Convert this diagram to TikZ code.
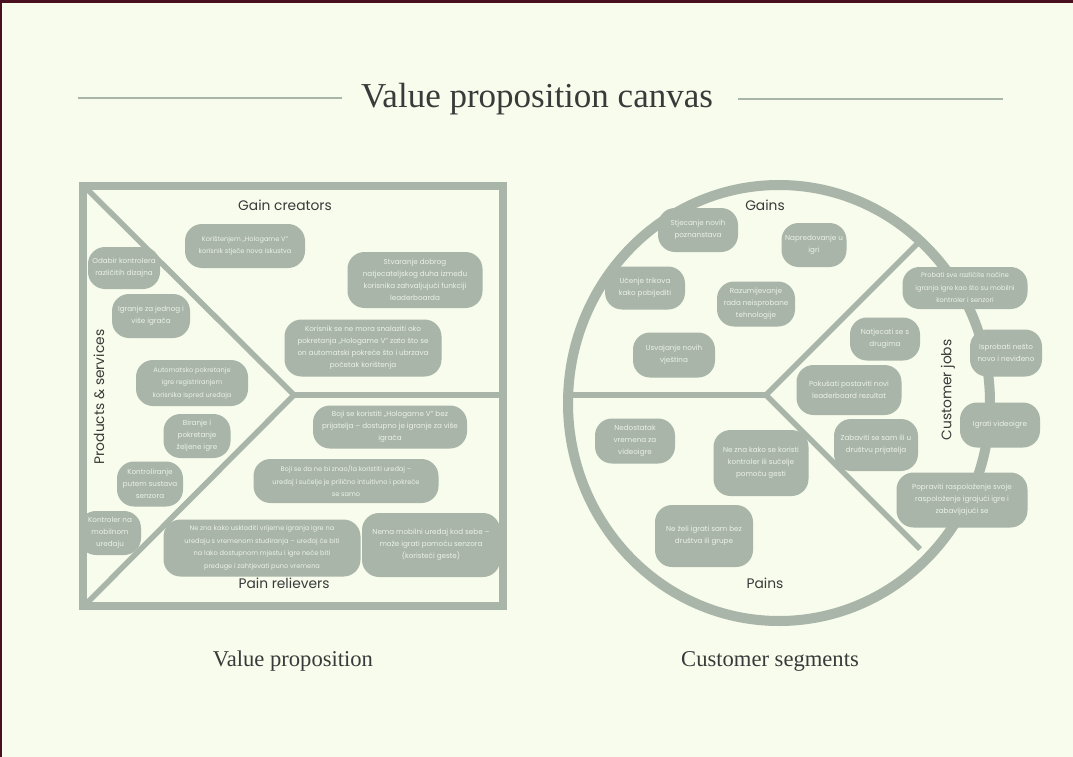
\documentclass[tikz,border=0pt]{standalone}
\usepackage{fontspec}
\usepackage{xcolor}
\usepackage{tikz}
\newfontfamily\popfont{Poppins}
\newfontfamily\titlefont{Liberation Serif}
\definecolor{paper}{HTML}{F7FCEC}
\definecolor{sage}{HTML}{A8B5A8}
\definecolor{ink}{HTML}{3A3A3A}
\definecolor{notetxt}{HTML}{EDF2EA}
\definecolor{maroon}{HTML}{4A1020}

\begin{document}
\begin{tikzpicture}[x=1pt, y=-1pt,
  note/.style 2 args={rectangle, rounded corners=17pt, fill=sage, text=notetxt,
    align=center, inner sep=1pt, minimum width=#1, minimum height=#2,
    font=\popfont\fontsize{7.2}{12}\selectfont},
  tight/.style={font=\popfont\fontsize{6.6}{12.5}\selectfont},
  lbl/.style={font=\popfont\fontsize{13.8}{16}\selectfont, text=ink},
  sectcap/.style={font=\titlefont\fontsize{22.6}{27}\selectfont, text=ink},
  frame/.style={draw=sage, line width=8pt}]

\useasboundingbox (0,0) rectangle (1073,757);
\fill[paper] (0,0) rectangle (1073,757);
\fill[maroon] (0,0) rectangle (1073,3);
\fill[maroon] (0,0) rectangle (1.5,757);

% Title
\node[font=\titlefont\fontsize{35}{40}\selectfont, text=ink] (title) at (537,99) {Value proposition canvas};
\draw[sage, line width=2.5pt] (78,98) -- (342,98);
\draw[sage, line width=2.5pt] (738,99) -- (1003,99);

% Value proposition square
\coordinate (tl) at (86,188);
\coordinate (bl) at (86,604);
\coordinate (tip) at (294,395);
\coordinate (re) at (503,395);
\draw[frame] (83,186) rectangle (503,606);
\draw[sage, line width=5.5pt] (tl) -- (tip) -- (bl);
\draw[sage, line width=5.5pt] (tip) -- (re);

% Customer profile circle
\coordinate (cc) at (766,395);
\coordinate (cl) at (568,395);
\coordinate (cu) at (918,243);
\coordinate (cd) at (920,549);
\draw[sage, line width=10pt] (779,403) ellipse [x radius=211, y radius=218];
\draw[sage, line width=5.5pt] (cl) -- (cc);
\draw[sage, line width=5.5pt] (cu) -- (cc) -- (cd);

% Section labels
\node[lbl] (gc) at (285,205) {Gain creators};
\node[lbl] (pr) at (284,583) {Pain relievers};
\node[lbl, rotate=90] (ps) at (99,397) {Products \& services};
\node[lbl] (gains) at (765,205) {Gains};
\node[lbl] (pains) at (765,583) {Pains};
\node[lbl, rotate=90] (cj) at (948,390) {Customer jobs};

% Products & services
\node[note={72}{42}] (p1) at (124,268) {Odabir kontrolera\\različitih dizajna};
\node[note={78}{44}] (p2) at (151,316) {Igranje za jednog i\\više igrača};
\node[note={112}{46}, tight] (p3) at (192,383) {Automatsko pokretanje\\igre registriranjem\\korisnika ispred uređaja};
\node[note={67}{44}] (p4) at (197,436) {Biranje i\\pokretanje\\željene igre};
\node[note={66}{45}] (p5) at (150,484) {Kontroliranje\\putem sustava\\senzora};
\node[note={62}{44}] (p6) at (110,533) {Kontroler na\\mobilnom\\uređaju};

% Gain creators
\node[note={120}{44}, tight] (g1) at (245,246) {Korištenjem „Hologame V”\\korisnik stječe nova iskustva};
\node[note={135}{56}] (g2) at (415,280) {Stvaranje dobrog\\natjecateljskog duha između\\korisnika zahvaljujući funkciji\\leaderboarda};
\node[note={157}{57}] (g3) at (363,348) {Korisnik se ne mora snalaziti oko\\pokretanja „Hologame V” zato što se\\on automatski pokreće što i ubrzava\\početak korištenja};

% Pain relievers
\node[note={154}{43}] (r1) at (390,427) {Boji se koristiti „Hologame V” bez\\prijatelja – dostupno je igranje za više\\igrača};
\node[note={185}{44}, tight] (r2) at (346,481) {Boji se da ne bi znao/la koristiti uređaj –\\uređaj i sučelje je prilično intuitivno i pokreće\\se samo};
\node[note={197}{57}, tight] (r3) at (262,548) {Ne zna kako uskladiti vrijeme igranja igre na\\uređaju s vremenom studiranja – uređaj će biti\\na lako dostupnom mjestu i igre neće biti\\preduge i zahtjevati puno vremena};
\node[note={138}{64}] (r4) at (431,545) {Nema mobilni uređaj kod sebe –\\može igrati pomoću senzora\\(koristeći geste)};

% Gains
\node[note={80}{44}] (a1) at (698,230) {Stjecanje novih\\poznanstava};
\node[note={65}{44}] (a2) at (814,245) {Napredovanje u\\igri};
\node[note={80}{43}] (a3) at (645,288) {Učenje trikova\\kako pobijediti};
\node[note={78}{45}] (a4) at (756,304) {Razumijevanje\\rada neisprobane\\tehnologije};
\node[note={82}{45}] (a5) at (674,355) {Usvajanje novih\\vještina};

% Customer jobs
\node[note={125}{42}, tight] (j1) at (965,288) {Probati sve različite načine\\igranja igre kao što su mobilni\\kontroler i senzori};
\node[note={70}{43}] (j2) at (885,339) {Natjecati se s\\drugima};
\node[note={72}{47}] (j3) at (1006,353) {Isprobati nešto\\novo i neviđeno};
\node[note={105}{50}] (j4) at (849,390) {Pokušati postaviti novi\\leaderboard rezultat};
\node[note={80}{45}] (j5) at (1000,425) {Igrati videoigre};
\node[note={84}{52}] (j6) at (876,445) {Zabaviti se sam ili u\\društvu prijatelja};
\node[note={131}{55}] (j7) at (962,500) {Popraviti raspoloženje svoje\\raspoloženje igrajući igre i\\zabavljajući se};

% Pains
\node[note={80}{45}] (n1) at (635,441) {Nedostatak\\vremena za\\videoigre};
\node[note={95}{66}] (n2) at (761,463) {Ne zna kako se koristi\\kontroler ili sučelje\\pomoću gesti};
\node[note={98}{62}] (n3) at (704,536) {Ne želi igrati sam bez\\društva ili grupe};

% Bottom captions
\node[sectcap] (vp) at (293,661) {Value proposition};
\node[sectcap] (cs) at (770,661) {Customer segments};

\end{tikzpicture}
\end{document}
